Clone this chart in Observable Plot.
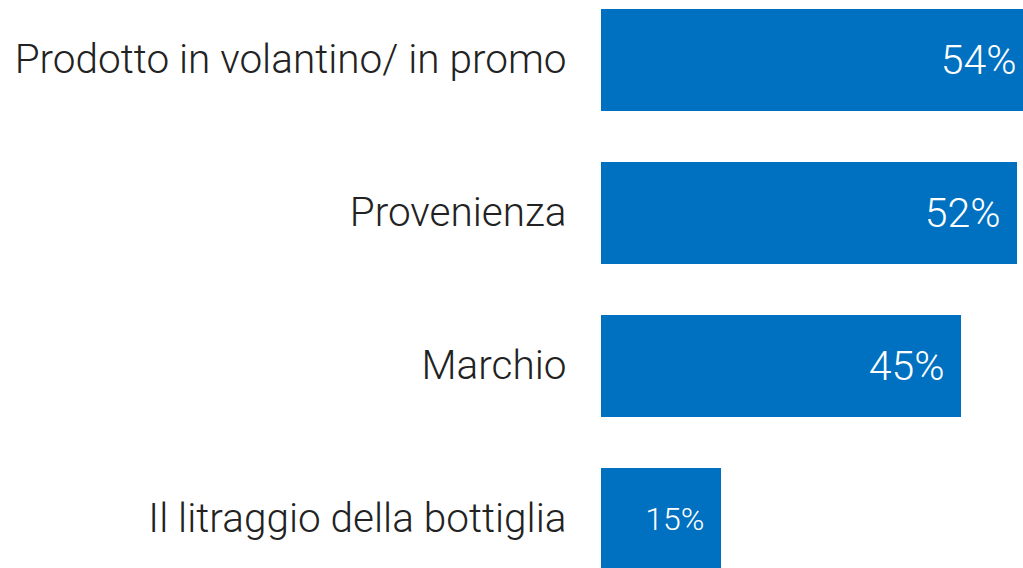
<!DOCTYPE html>
<html>
<head>
<meta charset="utf-8">
<script src="https://cdn.jsdelivr.net/npm/d3@7"></script>
<script src="https://cdn.jsdelivr.net/npm/@observablehq/plot@0.6"></script>
<style>
  html, body { margin: 0; padding: 0; background: #fff; overflow: hidden; }
  #chart svg { font-family: Roboto, "Helvetica Neue", Arial, sans-serif; font-weight: 300; }
</style>
</head>
<body>
<div id="chart"></div>
<script>
const categories = ["Prodotto in volantino/ in promo", "Provenienza", "Marchio", "Il litraggio della bottiglia"];
const values = [54, 52, 45, 15];
const valueLabels = ["54%", "52%", "45%", "15%"];

const data = categories.map((c, i) => ({category: c, value: values[i], label: valueLabels[i]}));

const chart = Plot.plot({
  width: 1023,
  height: 568,
  marginLeft: 601,
  marginRight: 0,
  marginTop: 0,
  marginBottom: 0,
  style: {background: "#fff", overflow: "hidden"},
  x: {domain: [0, 52.75], axis: null},
  y: {domain: categories, range: [-42, 621], paddingInner: 1/3, paddingOuter: 1/3, label: null},
  marks: [
    Plot.barX(data, {x: "value", y: "category", fill: "#0070C0", clip: true}),
    Plot.text(data, {
      x: "value", y: "category", text: "label",
      textAnchor: "end", dx: -17, fill: "#fff",
      fontSize: d => d.value < 20 ? 32 : 41,
      clip: true
    }),
    Plot.axisY({tickSize: 0, tickPadding: 35, fontSize: 40.5, color: "#222", label: null})
  ]
});
document.getElementById("chart").append(chart);
</script>
</body>
</html>
